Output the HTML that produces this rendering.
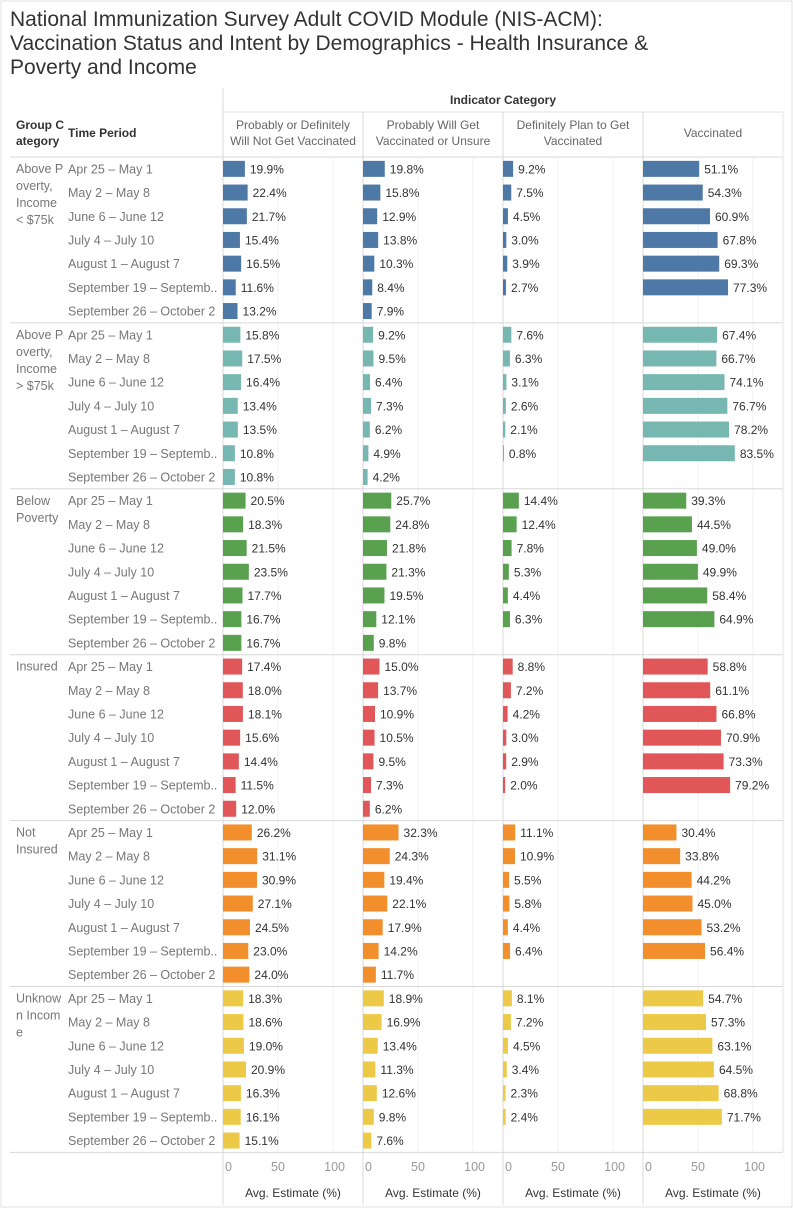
<!DOCTYPE html>
<html><head><meta charset="utf-8">
<style>
body{margin:0;background:#fff;font-family:"Liberation Sans",sans-serif;}
svg{display:block}
</style></head>
<body>
<svg id="chart" width="793" height="1218">
  <rect x="0" y="0" width="793" height="1218" fill="#fff"/>
  <rect x="1" y="1" width="791" height="1206" fill="none" stroke="#e2e2e2"/>
  <text x="10" y="26" font-size="21" fill="#333">National Immunization Survey Adult COVID Module (NIS-ACM):</text>
  <text x="10" y="50" font-size="21" fill="#333">Vaccination Status and Intent by Demographics - Health Insurance &amp;</text>
  <text x="10" y="74" font-size="21" fill="#333">Poverty and Income</text>
  <g id="plot"></g>
</svg>
<script>
const groups = [["Above P","overty,","Income","< $75k"],["Above P","overty,","Income","> $75k"],["Below","Poverty"],["Insured"],["Not","Insured"],["Unknow","n Incom","e"]];
const periods = ["Apr 25 – May 1","May 2 – May 8","June 6 – June 12","July 4 – July 10","August 1 – August 7","September 19 – Septemb..","September 26 – October 2"];
const indicators = [["Probably or Definitely","Will Not Get Vaccinated"],["Probably Will Get","Vaccinated or Unsure"],["Definitely Plan to Get","Vaccinated"],["Vaccinated"]];
const colors = ["#4e79a7","#76b7b2","#59a14f","#e15759","#f28e2b","#edc948"];
const ticks = [0,50,100];
const willNot = [[19.9,22.4,21.7,15.4,16.5,11.6,13.2],[15.8,17.5,16.4,13.4,13.5,10.8,10.8],[20.5,18.3,21.5,23.5,17.7,16.7,16.7],[17.4,18.0,18.1,15.6,14.4,11.5,12.0],[26.2,31.1,30.9,27.1,24.5,23.0,24.0],[18.3,18.6,19.0,20.9,16.3,16.1,15.1]];
const unsure = [[19.8,15.8,12.9,13.8,10.3,8.4,7.9],[9.2,9.5,6.4,7.3,6.2,4.9,4.2],[25.7,24.8,21.8,21.3,19.5,12.1,9.8],[15.0,13.7,10.9,10.5,9.5,7.3,6.2],[32.3,24.3,19.4,22.1,17.9,14.2,11.7],[18.9,16.9,13.4,11.3,12.6,9.8,7.6]];
const plan = [[9.2,7.5,4.5,3.0,3.9,2.7,null],[7.6,6.3,3.1,2.6,2.1,0.8,null],[14.4,12.4,7.8,5.3,4.4,6.3,null],[8.8,7.2,4.2,3.0,2.9,2.0,null],[11.1,10.9,5.5,5.8,4.4,6.4,null],[8.1,7.2,4.5,3.4,2.3,2.4,null]];
const vaccinated = [[51.1,54.3,60.9,67.8,69.3,77.3,null],[67.4,66.7,74.1,76.7,78.2,83.5,null],[39.3,44.5,49.0,49.9,58.4,64.9,null],[58.8,61.1,66.8,70.9,73.3,79.2,null],[30.4,33.8,44.2,45.0,53.2,56.4,null],[54.7,57.3,63.1,64.5,68.8,71.7,null]];
const series = [willNot, unsure, plan, vaccinated];

const NS="http://www.w3.org/2000/svg";
const g=document.getElementById('plot');
function el(tag,attrs,parent,text){const e=document.createElementNS(NS,tag);for(const k in attrs)e.setAttribute(k,attrs[k]);if(text!=null)e.textContent=text;(parent||g).appendChild(e);return e;}
const panelX=[223,363,503,643], panelW=140, topY=157, rowH=23.7, groupH=7*rowH;
const bottomY=topY+6*groupH;
const xs=(p,v)=>panelX[p]+v*1.1;
const ys=(gi,ri)=>topY+gi*groupH+ri*rowH+rowH/2;

for(let p=0;p<4;p++){for(const tk of ticks){if(tk===0)continue;el('line',{x1:xs(p,tk),x2:xs(p,tk),y1:topY,y2:bottomY,stroke:'#f0f0f0'});}}
for(let p=0;p<4;p++){el('line',{x1:panelX[p],x2:panelX[p],y1:(p===0?88:112),y2:1205,stroke:'#d8d8d8'});}
el('line',{x1:panelX[3]+panelW,x2:panelX[3]+panelW,y1:112,y2:bottomY,stroke:'#e6e6e6'});
let t=el('text',{x:503,y:104,'font-size':12,'text-anchor':'middle',fill:'#333','font-weight':'bold'},g,'Indicator Category');


el('line',{x1:223,x2:783,y1:112,y2:112,stroke:'#e0e0e0'});
t=el('text',{x:16,y:129,'font-size':12,fill:'#333','font-weight':'bold'},g,'Group C');


el('text',{x:16,y:145,'font-size':12,fill:'#333','font-weight':'bold'},g,'ategory');
t=el('text',{x:68,y:137,'font-size':12,fill:'#333','font-weight':'bold'},g,'Time Period');


indicators.forEach((lines,p)=>{
  const cx=panelX[p]+panelW/2;
  lines.forEach((ln,i)=>{
    const y=lines.length===1?137:129+i*16;
    const tx=el('text',{x:cx,y:y,'font-size':12,'text-anchor':'middle',fill:'#666'},g,ln);
    
    
  });
});
el('line',{x1:10,x2:783,y1:topY,y2:topY,stroke:'#d8d8d8'});

groups.forEach((lab,gi)=>{
  const gy=topY+gi*groupH;
  el('line',{x1:10,x2:783,y1:gy+groupH,y2:gy+groupH,stroke:'#d8d8d8'});
  lab.forEach((ln,i)=>{
    const tx=el('text',{x:16,y:gy+16+i*17,'font-size':12.5,fill:'#777'},g,ln);
    
    
  });
  periods.forEach((per,ri)=>{
    const tx=el('text',{x:68,y:ys(gi,ri)+4.5,'font-size':12.5,fill:'#777'},g,per);
    
    
    for(let p=0;p<4;p++){
      const v=series[p][gi][ri];
      if(v==null)continue;
      const r=el('rect',{x:panelX[p],y:ys(gi,ri)-8,width:Math.max(xs(p,v)-panelX[p],1),height:16,fill:colors[gi]});
      
      
      const lt=el('text',{x:xs(p,v)+5,y:ys(gi,ri)+4.5,'font-size':12,fill:'#333'},g,v.toFixed(1)+'%');
      
      
    }
  });
});
for(let p=0;p<4;p++){
  ticks.forEach(tk=>{
    const a=tk===0?'start':(tk===100?'end':'middle');
    const x=tk===0?xs(p,tk)+2:(tk===100?xs(p,tk)+12:xs(p,tk));
    const tx=el('text',{x:x,y:1171,'font-size':12.5,'text-anchor':a,fill:'#999'},g,String(tk));
    
    
  });
  const at=el('text',{x:panelX[p]+panelW/2,y:1197,'font-size':12,'text-anchor':'middle',fill:'#333'},g,'Avg. Estimate (%)');
  
  
}
</script>
</body></html>
